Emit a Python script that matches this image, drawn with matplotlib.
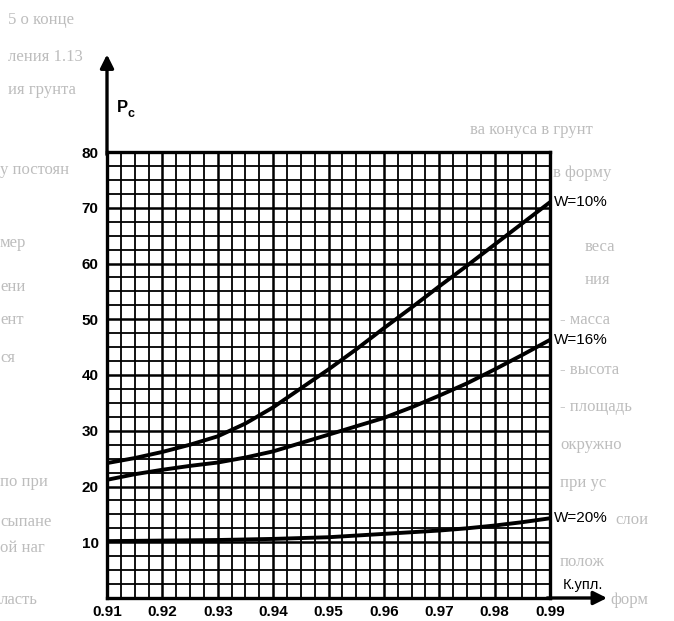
import numpy as np
import matplotlib.pyplot as plt

# Кривые Pc = f(K.упл.) для разной влажности
k_upl = [0.91, 0.915, 0.92, 0.925, 0.93, 0.935, 0.94, 0.945, 0.95,
         0.955, 0.96, 0.965, 0.97, 0.975, 0.98, 0.985, 0.99]
pc_w10 = [24.2, 25.1, 26.2, 27.5, 29.0, 31.3, 34.2, 37.6, 41.0,
          44.6, 48.4, 52.1, 55.9, 59.6, 63.4, 67.2, 71.0]
pc_w16 = [21.2, 22.2, 23.0, 23.7, 24.3, 25.2, 26.3, 27.8, 29.3,
          30.8, 32.3, 34.2, 36.3, 38.5, 41.0, 43.6, 46.3]
pc_w20 = [10.2, 10.25, 10.3, 10.35, 10.4, 10.5, 10.6, 10.75, 10.9,
          11.2, 11.5, 11.8, 12.1, 12.5, 13.0, 13.6, 14.3]
curve_labels = ['W=10%', 'W=16%', 'W=20%']

x_ticks = [0.91, 0.92, 0.93, 0.94, 0.95, 0.96, 0.97, 0.98, 0.99]
y_ticks = [10, 20, 30, 40, 50, 60, 70, 80]

W, H = 674, 621
fig = plt.figure(figsize=(W / 100, H / 100), dpi=100)
fig.patch.set_facecolor('white')

# бледный текст с обратной стороны страницы (x, y в пикселях сверху)
ghost = [
    (8, 20, '5 о конце'),
    (8, 57, 'ления 1.13'),
    (8, 90, 'ия грунта'),
    (0, 170, 'у постоян'),
    (0, 243, 'мер'),
    (0, 287, 'ени'),
    (0, 320, 'ент'),
    (0, 358, 'ся'),
    (0, 482, 'по при'),
    (0, 522, 'сыпане'),
    (0, 548, 'ой наг'),
    (0, 600, 'ласть'),
    (470, 130, 'ва конуса в грунт'),
    (553, 173, 'в форму'),
    (585, 247, 'веса'),
    (585, 280, 'ния'),
    (560, 320, '- масса'),
    (560, 370, '- высота'),
    (560, 407, '- площадь'),
    (560, 445, 'окружно'),
    (560, 483, 'при ус'),
    (615, 520, 'слои'),
    (560, 562, 'полож'),
    (610, 600, 'форм'),
]
for gx, gy, gt in ghost:
    fig.text(gx / W, 1 - gy / H, gt, fontsize=12, color='#bdbdbd',
             family='Liberation Serif', va='center', ha='left', zorder=0)

# оси в пикселях: слева 107, справа 550, сверху 152, снизу 598
ax = fig.add_axes([107 / W, 1 - 598 / H, (550 - 107) / W, (598 - 152) / H])
ax.set_xlim(0.91, 0.99)
ax.set_ylim(0, 80)

ax.set_xticks(x_ticks)
ax.set_xticklabels([f'{v:.2f}' for v in x_ticks])
ax.set_yticks(y_ticks)
ax.set_yticklabels([str(v) for v in y_ticks])
ax.set_xticks(np.arange(0.91, 0.99 + 1e-9, 0.0025), minor=True)
ax.set_yticks(np.arange(0, 80 + 1e-9, 2.5), minor=True)

ax.grid(True, which='minor', color='black', linewidth=1.3)
ax.grid(True, which='major', color='black', linewidth=1.8)
ax.tick_params(which='both', length=0)
ax.tick_params(axis='x', pad=5)
ax.tick_params(axis='y', pad=6)
for lbl in ax.get_xticklabels() + ax.get_yticklabels():
    lbl.set_fontweight('bold')
    lbl.set_fontsize(11)
    lbl.set_fontfamily('Liberation Sans')

for side in ['left', 'bottom', 'top', 'right']:
    ax.spines[side].set_linewidth(2.4)
    ax.spines[side].set_color('black')

for pc, lab in zip([pc_w10, pc_w16, pc_w20], curve_labels):
    ax.plot(k_upl, pc, color='black', linewidth=2.8, solid_capstyle='butt',
            clip_on=False, zorder=5)
    ax.annotate(lab, xy=(k_upl[-1], pc[-1]), xytext=(3, 0),
                textcoords='offset points', ha='left', va='center',
                fontsize=11, family='Liberation Sans', annotation_clip=False)

# стрелки осей
ax.annotate('', xy=(0.91, 97.5), xytext=(0.91, 79.5),
            arrowprops=dict(arrowstyle='-|>', color='black', lw=2.4,
                            mutation_scale=20, shrinkA=0, shrinkB=0),
            annotation_clip=False)
ax.annotate('', xy=(1.0003, 0), xytext=(0.9895, 0),
            arrowprops=dict(arrowstyle='-|>', color='black', lw=2.4,
                            mutation_scale=20, shrinkA=0, shrinkB=0),
            annotation_clip=False)

fig.text(117 / W, 1 - 107 / H, 'P', fontsize=12, fontweight='bold',
         family='Liberation Sans', va='center', ha='left')
fig.text(127.5 / W, 1 - 114 / H, 'c', fontsize=9, fontweight='bold',
         family='Liberation Sans', va='center', ha='left')
fig.text(563 / W, 1 - 585 / H, 'К.упл.', fontsize=10.5,
         family='Liberation Sans', va='center', ha='left')

fig.savefig('out.png', dpi=100)
